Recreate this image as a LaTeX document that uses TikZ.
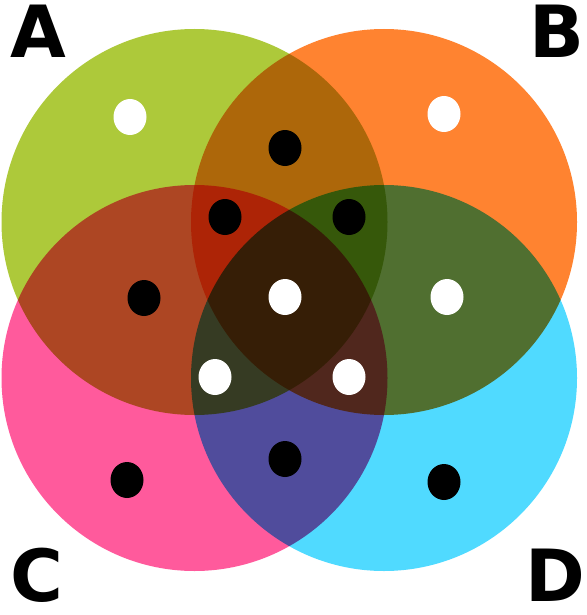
\documentclass[tikz,border=0pt]{standalone}
\usepackage{fontspec}
\newfontfamily\labelfont{DejaVu Sans}
\usepackage{tikz}
\usetikzlibrary{calc,shapes.geometric}

\definecolor{setA}{HTML}{ADC93A}
\definecolor{setB}{HTML}{FF8330}
\definecolor{setC}{HTML}{FF5A9C}
\definecolor{setD}{HTML}{50DAFF}

\begin{document}
\begin{tikzpicture}[x=1pt, y=-1pt]
  \pgfmathsetmacro{\r}{193}   % circle radius
  \pgfmathsetmacro{\dx}{16.5} % dot half width
  \pgfmathsetmacro{\dy}{18}   % dot half height

  \tikzset{
    set disc/.style={blend mode=multiply},
    white dot/.style={ellipse, fill=white, minimum width=2*\dx pt, minimum height=2*\dy pt, inner sep=0pt},
    black dot/.style={ellipse, fill=black, minimum width=2*\dx pt, minimum height=2*\dy pt, inner sep=0pt},
    set label/.style={inner sep=0pt, font=\labelfont\bfseries\fontsize{72}{72}\selectfont},
  }

  \newcommand{\drawset}[3]{
    \fill[set disc, #3] #2 circle (\r);
    \coordinate (#1) at #2;
  }
  \newcommand{\drawdot}[3]{
    \node[#3 dot] (#1) at #2 {};
  }

  \fill[white] (0,0) rectangle (586,615);
  \useasboundingbox (0,0) rectangle (586,615);

  % the four sets
  \begin{scope}[transparency group]
    \drawset{cA}{(194.5,222)}{setA};
    \drawset{cB}{(384,222)}{setB};
    \drawset{cC}{(194.5,378)}{setC};
    \drawset{cD}{(384,378)}{setD};
  \end{scope}

  % white dots
  \drawdot{wA}{(130,117)}{white};
  \drawdot{wB}{(444,114)}{white};
  \drawdot{wABCD}{(285,297)}{white};
  \drawdot{wBD}{(447,297)}{white};
  \drawdot{wACD}{(215,377)}{white};
  \drawdot{wBCD}{(349,377)}{white};

  % black dots
  \drawdot{kAB}{(285,148)}{black};
  \drawdot{kABC}{(225,217)}{black};
  \drawdot{kABD}{(349,217)}{black};
  \drawdot{kAC}{(144,298)}{black};
  \drawdot{kCD}{(285,459)}{black};
  \drawdot{kC}{(127,480)}{black};
  \drawdot{kD}{(444,482)}{black};

  % labels
  \node[set label, anchor=base west] (lA) at (10,58) {A};
  \node[set label, anchor=base east] (lB) at (585,58) {B};
  \node[set label, anchor=base west] (lC) at (10,601) {C};
  \node[set label, anchor=base east] (lD) at (585,601) {D};
\end{tikzpicture}
\end{document}
